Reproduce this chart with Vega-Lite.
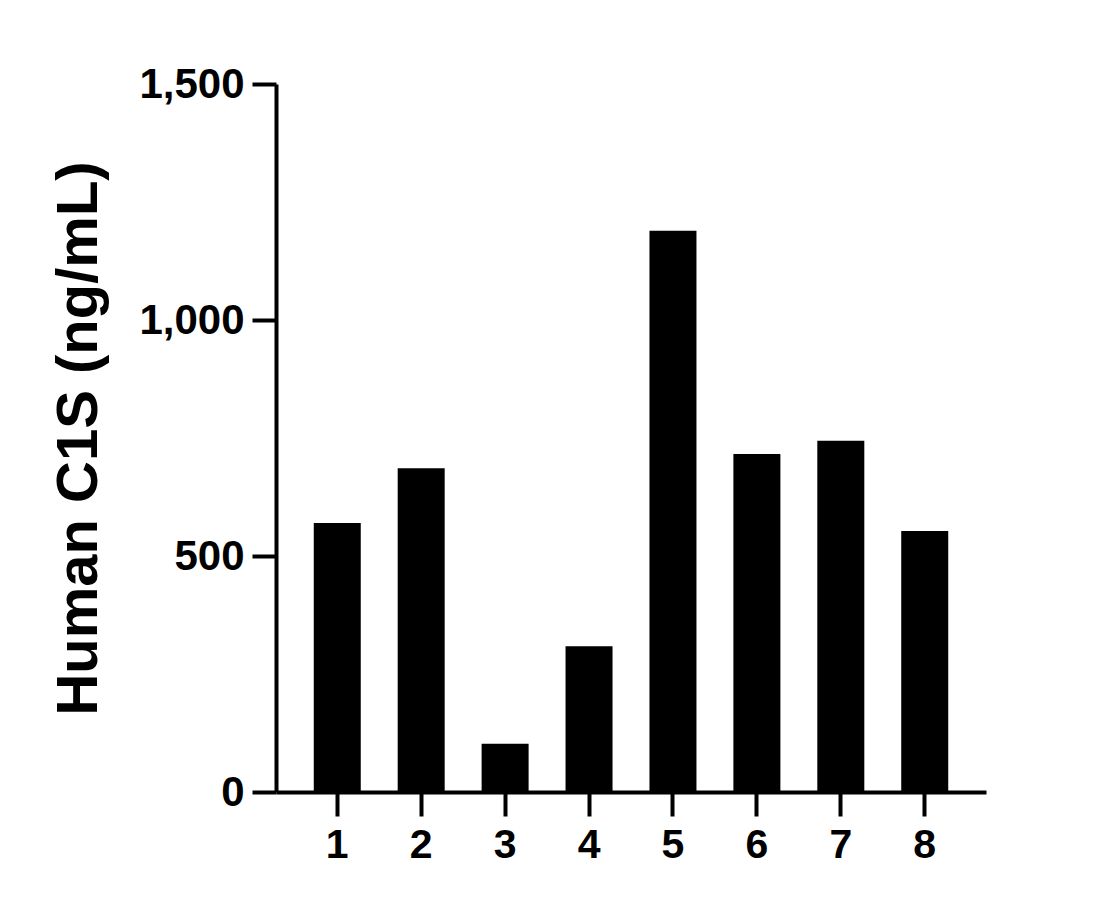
{
  "$schema": "https://vega.github.io/schema/vega-lite/v6.json",
  "autosize": "none",
  "padding": {"left": 276, "top": 84, "right": 132, "bottom": 118},
  "width": 710,
  "height": 708,
  "background": "white",
  "config": {"view": {"stroke": null}, "font": "Liberation Sans"},
  "data": {"values": [
    {"sample": "1", "value": 570},
    {"sample": "2", "value": 686},
    {"sample": "3", "value": 102},
    {"sample": "4", "value": 309},
    {"sample": "5", "value": 1189},
    {"sample": "6", "value": 716},
    {"sample": "7", "value": 744},
    {"sample": "8", "value": 553}
  ]},
  "mark": {"type": "bar", "color": "black"},
  "encoding": {
    "x": {
      "field": "sample", "type": "ordinal",
      "scale": {"paddingInner": 0.44, "paddingOuter": 0.45},
      "axis": {
        "title": null, "labelAngle": 0,
        "labelFont": "Liberation Sans", "labelFontSize": 41, "labelFontWeight": "bold", "labelColor": "black",
        "labelPadding": 9,
        "domainColor": "black", "domainWidth": 4,
        "tickColor": "black", "tickWidth": 4, "tickSize": 24
      }
    },
    "y": {
      "field": "value", "type": "quantitative",
      "scale": {"domain": [0, 1500], "nice": false},
      "axis": {
        "title": "Human C1S (ng/mL)",
        "titleFont": "Liberation Sans", "titleFontSize": 58, "titleFontWeight": "bold", "titleColor": "black",
        "titlePadding": 30,
        "values": [0, 500, 1000, 1500], "format": ",.0f", "grid": false,
        "labelFont": "Liberation Sans", "labelFontSize": 42, "labelFontWeight": "bold", "labelColor": "black",
        "labelPadding": 8,
        "domainColor": "black", "domainWidth": 4,
        "tickColor": "black", "tickWidth": 4, "tickSize": 24
      }
    }
  }
}
